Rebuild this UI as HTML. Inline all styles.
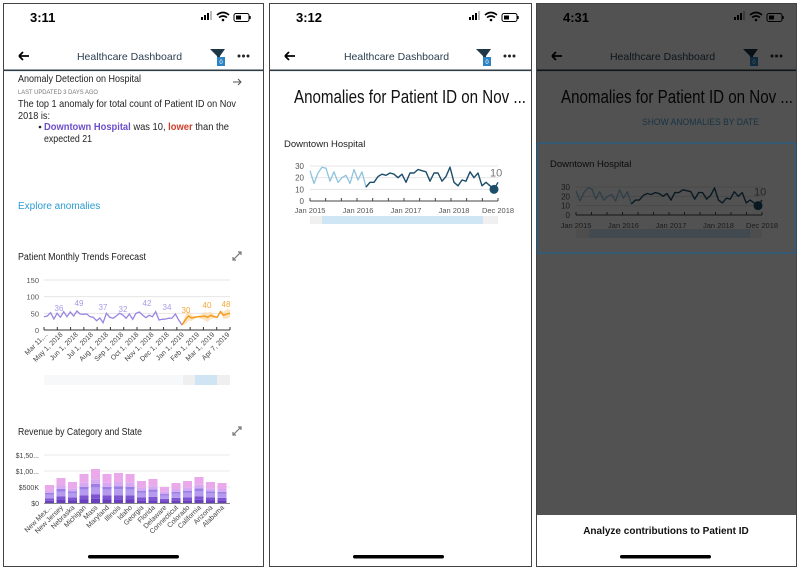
<!DOCTYPE html>
<html><head><meta charset="utf-8">
<style>
html,body{margin:0;padding:0;background:#fff;width:800px;height:569px;overflow:hidden}
svg{display:block;font-family:"Liberation Sans",sans-serif}
</style></head>
<body>
<svg id="s" width="800" height="569" viewBox="0 0 800 569" xmlns="http://www.w3.org/2000/svg">
<rect width="800" height="569" fill="#fff"/>
<g id="p1"></g><g id="p2"></g><g id="p3"></g>
</svg>
<script>
const NS="http://www.w3.org/2000/svg";
function el(par,tag,attrs,txt){const e=document.createElementNS(NS,tag);for(const k in attrs)e.setAttribute(k,attrs[k]);if(txt!==undefined)e.textContent=txt;par.appendChild(e);return e;}
function T(par,x,y,s,size,fill,extra){return el(par,'text',Object.assign({x:x,y:y,'font-size':size,fill:fill||'#222'},extra||{}),s);}
function phone(g,x0,x1,time){
  el(g,'rect',{x:x0+0.5,y:3.5,width:x1-x0-1,height:563,fill:'#fff',stroke:'#444','stroke-width':1});
  T(g,x0+27,22,time,13,'#000',{'font-weight':'bold'});
  const sx=x1-63;
  for(let i=0;i<4;i++)el(g,'rect',{x:sx+i*3,y:19-i*2-2,width:2,height:2+i*2+1,fill:i<3?'#000':'#bbb'});
  el(g,'path',{d:`M${sx+16} 15 q6 -5 12 0 M${sx+18} 17.5 q4 -3 8 0`,stroke:'#000','stroke-width':1.6,fill:'none'});
  el(g,'circle',{cx:sx+22,cy:20,r:1.3,fill:'#000'});
  el(g,'rect',{x:sx+33,y:13.5,width:15,height:8,rx:2,fill:'none',stroke:'#000','stroke-width':1});
  el(g,'rect',{x:sx+35,y:15.5,width:5,height:4,fill:'#000'});
  el(g,'rect',{x:sx+48.5,y:16,width:1.2,height:3,fill:'#000'});
  const cx=(x0+x1)/2;
  el(g,'path',{d:`M${x0+16} 56 h10 M${x0+16} 56 l4 -4 M${x0+16} 56 l4 4`,stroke:'#000','stroke-width':1.8,fill:'none'});
  T(g,cx-4,60,'Healthcare Dashboard',10.5,'#2b3f50',{'text-anchor':'middle'});
  el(g,'path',{d:`M${x0+207} 49 h15 l-5 7 v8 l-3 -2 v-6 z`,fill:'#1e3747'});
  el(g,'rect',{x:x0+214,y:57,width:8,height:9,fill:'#2b83c4'});
  T(g,x0+218,64,'0',6,'#fff',{'text-anchor':'middle'});
  for(let i=0;i<3;i++)el(g,'circle',{cx:x0+236+i*4.5,cy:56,r:1.5,fill:'#222'});
  el(g,'rect',{x:x0+1,y:69.5,width:x1-x0-2,height:1.6,fill:'#2e3e48'});
}
function line(g,vals,x0,x1,y0,k,col,w,from,to){
  const dx=(x1-x0)/(vals.length-1);let p=[];
  for(let i=from;i<=to;i++)p.push((x0+i*dx).toFixed(1)+','+(y0-vals[i]*k).toFixed(1));
  el(g,'polyline',{points:p.join(' '),fill:'none',stroke:col,'stroke-width':w,'stroke-linejoin':'round'});
}
const dt=[26,15,24,29,28,17,25,16,20,22,15,27,18,25,12,16,16,21,23,22,24,23,20,23,16,24,24,27,26,25,17,24,24,17,21,29,16,13,18,17,25,20,24,13,16,13,10,16];
function downtown(g,x0,x1,y0,y30,lab){
  const k=(y0-y30)/30;
  for(const v of [10,20,30])el(g,'line',{x1:x0,x2:x1,y1:y0-v*k,y2:y0-v*k,stroke:'#e4e4e4','stroke-width':1});
  el(g,'line',{x1:x0,x2:x1,y1:y0,y2:y0,stroke:'#444','stroke-width':1});
  for(let i=0;i<=12;i++)el(g,'line',{x1:x0+i*(x1-x0)/12,x2:x0+i*(x1-x0)/12,y1:y0-3,y2:y0,stroke:'#444','stroke-width':1});
  [['30',30],['20',20],['10',10],['0',0]].forEach(a=>T(g,x0-6,y0-a[1]*k+3,a[0],8,'#555',{'text-anchor':'end'}));
  line(g,dt,x0,x1,y0,k,'#8fc3de',1.3,0,15);
  line(g,dt,x0,x1,y0,k,'#1d4e6b',1.4,14,47);
  const dx=(x1-x0)/47;
  el(g,'circle',{cx:x0+46*dx,cy:y0-10*k,r:4.5,fill:'#1d4e6b'});
  T(g,x0+46*dx-4,y0-21*k,'10',11,'#777');
  [['Jan 2015',0],['Jan 2016',12],['Jan 2017',24],['Jan 2018',36],['Dec 2018',47]].forEach(a=>T(g,x0+a[1]*dx,lab,a[0],7.5,'#555',{'text-anchor':'middle'}));
}
// ---------- Panel 1
const g1=document.getElementById('p1');
phone(g1,3,264,'3:11');
T(g1,18,82,'Anomaly Detection on Hospital',10.5,'#222',{textLength:123,lengthAdjust:'spacingAndGlyphs'});
el(g1,'path',{d:'M233 82 h8 M238 79 l3 3 l-3 3',stroke:'#555','stroke-width':1,fill:'none'});
T(g1,18,94,'LAST UPDATED 3 DAYS AGO',6.5,'#777',{textLength:80,lengthAdjust:'spacingAndGlyphs'});
T(g1,18,107,'The top 1 anomaly for total count of Patient ID on Nov',10.5,'#222',{textLength:218,lengthAdjust:'spacingAndGlyphs'});
T(g1,18,119,'2018 is:',10.5,'#222',{textLength:32,lengthAdjust:'spacingAndGlyphs'});
el(g1,'circle',{cx:40,cy:127,r:1.3,fill:'#222'});
const t=T(g1,44,130,'',10.5,'#222',{textLength:185,lengthAdjust:'spacingAndGlyphs'});
el(t,'tspan',{fill:'#6d4fc9','font-weight':'bold'},'Downtown Hospital');
el(t,'tspan',{},' was 10, ');
el(t,'tspan',{fill:'#d13b2a','font-weight':'bold'},'lower');
el(t,'tspan',{},' than the');
T(g1,44,142,'expected 21',10.5,'#222',{textLength:48,lengthAdjust:'spacingAndGlyphs'});
T(g1,18,209,'Explore anomalies',10,'#2c9bd3');
T(g1,18,260,'Patient Monthly Trends Forecast',10,'#222',{textLength:128,lengthAdjust:'spacingAndGlyphs'});
function expand(g,x,y){el(g,'path',{d:`M${x} ${y+8} l8 -8 M${x+5} ${y} h3 v3 M${x} ${y+5} v3 h3`,stroke:'#777','stroke-width':1.2,fill:'none'});}
expand(g1,233,252);expand(g1,233,427);
(function(){
  const x0=44,x1=230,y0=330;
  for(const v of [50,100,150])el(g1,'line',{x1:x0,x2:x1,y1:y0-v/3,y2:y0-v/3,stroke:'#e6e6e6'});
  el(g1,'line',{x1:x0,x2:x1,y1:y0,y2:y0,stroke:'#333'});
  for(let i=0;i<=14;i++)el(g1,'line',{x1:x0+i*(x1-x0)/14,x2:x0+i*(x1-x0)/14,y1:y0-3,y2:y0,stroke:'#333'});
  [['150',150],['100',100],['50',50],['0',0]].forEach(a=>T(g1,39,y0-a[1]/3+3,a[0],7.5,'#555',{'text-anchor':'end'}));
  const pv=[40,42,52,33,50,38,55,40,54,42,57,48,47,48,40,38,28,36,22,50,38,35,42,50,45,35,48,32,50,54,45,37,44,40,55,30,32,33,35,36,48,30,15];
  const ov=[15,30,42,36,38,40,40,42,38,44,40,38,55,44,48,50];
  const ox0=182,odx=(230-182)/(ov.length-1);let up=[],dn=[];
  ov.forEach((v,i)=>{const w=i==0?0:8+6*Math.sin(i);up.push((ox0+i*odx)+','+(y0-(v+w)/3));dn.unshift((ox0+i*odx)+','+(y0-Math.max(0,v-w)/3));});
  el(g1,'polygon',{points:up.concat(dn).join(' '),fill:'#fbdcae',opacity:0.8});
  let p=[];const pdx=(182-44)/(pv.length-1);
  pv.forEach((v,i)=>p.push((44+i*pdx).toFixed(1)+','+(y0-v/3).toFixed(1)));
  el(g1,'polyline',{points:p.join(' '),fill:'none',stroke:'#9a86e0','stroke-width':1.3});
  p=[];ov.forEach((v,i)=>p.push((ox0+i*odx).toFixed(1)+','+(y0-v/3).toFixed(1)));
  el(g1,'polyline',{points:p.join(' '),fill:'none',stroke:'#f39a1a','stroke-width':1.4});
  [['36',59,311],['49',79,306],['37',103,310],['32',123,312],['42',147,306],['34',167,310]].forEach(a=>T(g1,a[1],a[2],a[0],8,'#a99be6',{'text-anchor':'middle'}));
  [['30',186,313],['40',207,308],['48',226,307]].forEach(a=>T(g1,a[1],a[2],a[0],8,'#f3a83a',{'text-anchor':'middle'}));
  const labs=['Mar 11,...','May 1, 2018','Jun 1, 2018','Jul 1, 2018','Aug 1, 2018','Sep 1, 2018','Oct 1, 2018','Nov 1, 2018','Dec 1, 2018','Jan 1, 2019','Feb 1, 2019','Mar 1, 2019','Apr 7, 2019'];
  labs.forEach((s,i)=>{const x=x0+4+i*(x1-x0-4)/12;T(g1,x,335,s,7,'#444',{'text-anchor':'end',transform:`rotate(-45 ${x} 335)`});});
  el(g1,'rect',{x:44,y:375,width:186,height:10,fill:'#f7f8f9'});
  el(g1,'rect',{x:183,y:375,width:47,height:10,fill:'#efefef'});
  el(g1,'rect',{x:195,y:375,width:22,height:10,fill:'#cfe5f3'});
})();
T(g1,18,435,'Revenue by Category and State',10,'#222',{textLength:124,lengthAdjust:'spacingAndGlyphs'});
(function(){
  const y0=503,k=16;
  for(const v of [1,2,3])el(g1,'line',{x1:44,x2:230,y1:y0-v*k,y2:y0-v*k,stroke:'#e8e8e8'});
  [['$1,50...',3],['$1,00...',2],['$500K',1],['$0',0]].forEach(a=>T(g1,39,y0-a[1]*k+3,a[0],7,'#444',{'text-anchor':'end'}));
  const h=[18,25,21,29,34,29,30,29,22,24,16,20,22,26,21,20];
  const names=['New Mex...','New Jersey','Nebraska','Michigan','Mass','Maryland','Illinois','Idaho','Georgia','Florida','Delaware','Connecticut','Colorado','California','Arizona','Alabama'];
  const cols=[['#6a3fbf',0.12],['#7d55d0',0.14],['#b59af0',0.2],['#9b7fe6',0.1],['#d7a9f2',0.14],['#e9a9ea',0.3]];
  h.forEach((H,i)=>{const x=45+i*11.5;let y=y0;cols.forEach(c=>{const hh=H*c[1];y-=hh;el(g1,'rect',{x:x,y:y,width:9,height:hh,fill:c[0]});});
    const lx=x+7;T(g1,lx,508,names[i],7,'#444',{'text-anchor':'end',transform:`rotate(-45 ${lx} 508)`});});
  el(g1,'line',{x1:44,x2:230,y1:y0+0.5,y2:y0+0.5,stroke:'#888'});
})();
el(g1,'rect',{x:88,y:555,width:91,height:3.5,rx:1.7,fill:'#000'});
// ---------- Panel 2
const g2=document.getElementById('p2');
phone(g2,269,532,'3:12');
T(g2,294,103,'Anomalies for Patient ID on Nov ...',18,'#111',{textLength:232,lengthAdjust:'spacingAndGlyphs'});
T(g2,284,147,'Downtown Hospital',9.5,'#222');
downtown(g2,310,498,201,166,213);
el(g2,'rect',{x:310,y:216,width:188,height:8,fill:'#f0f0f0'});
el(g2,'rect',{x:322,y:216,width:161,height:8,fill:'#cfe6f4'});
el(g2,'rect',{x:353,y:555,width:91,height:3.5,rx:1.7,fill:'#000'});
// ---------- Panel 3
const g3=document.getElementById('p3');
phone(g3,536,797,'4:31');
T(g3,561,103,'Anomalies for Patient ID on Nov ...',18,'#111',{textLength:232,lengthAdjust:'spacingAndGlyphs'});
T(g3,642,125,'SHOW ANOMALIES BY DATE',9,'#4a9fd0',{textLength:117,lengthAdjust:'spacingAndGlyphs'});
T(g3,550,167,'Downtown Hospital',9.5,'#222');
downtown(g3,576,762,215,187,228);
el(g3,'rect',{x:576,y:229,width:186,height:9,fill:'#f0f0f0'});
el(g3,'rect',{x:589,y:229,width:161,height:9,fill:'#cfe6f4'});
el(g3,'rect',{x:537,y:4,width:259,height:511,fill:'#000','fill-opacity':0.68});
el(g3,'rect',{x:537.5,y:143,width:258,height:110,fill:'none',stroke:'#2d5d80','stroke-width':1.5});
el(g3,'rect',{x:537,y:515,width:259,height:51,fill:'#fff'});
T(g3,666,534,'Analyze contributions to Patient ID',10,'#111',{'text-anchor':'middle','font-weight':'bold'});
el(g3,'rect',{x:620,y:555,width:91,height:3.5,rx:1.7,fill:'#000'});
</script>
</body></html>
